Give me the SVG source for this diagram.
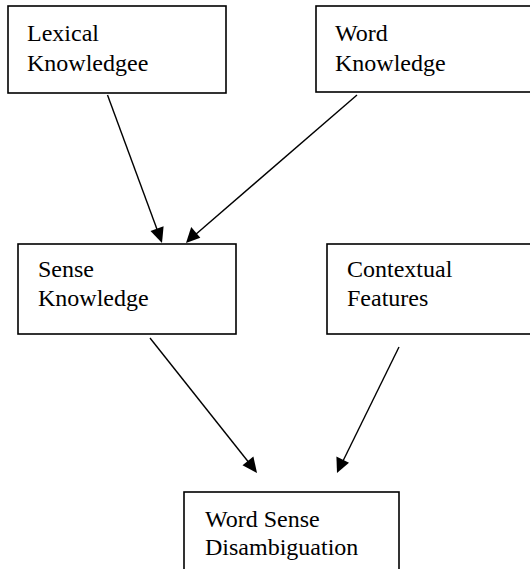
<svg xmlns="http://www.w3.org/2000/svg" width="530" height="569" viewBox="0 0 530 569">
<style>
.box{fill:#fff;stroke:#000;stroke-width:1.6}
.t{font-family:"Liberation Serif",serif;font-size:24px;fill:#000}
.c{stroke:#000;stroke-width:1.4;fill:none}
.h{fill:#000;stroke:none}
</style>
<rect width="530" height="569" fill="#fff"/>
<g id="n1"><rect class="box" x="8" y="6" width="218" height="87"/><text class="t" x="27" y="41">Lexical</text><text class="t" x="27" y="71">Knowledgee</text></g>
<g id="n2"><rect class="box" x="316" y="6" width="220" height="86"/><text class="t" x="335" y="41">Word</text><text class="t" x="335" y="71">Knowledge</text></g>
<g id="n3"><rect class="box" x="18" y="244" width="218" height="90"/><text class="t" x="38" y="277">Sense</text><text class="t" x="38" y="306">Knowledge</text></g>
<g id="n4"><rect class="box" x="327" y="244" width="210" height="90"/><text class="t" x="347" y="277">Contextual</text><text class="t" x="347" y="306">Features</text></g>
<g id="n5"><rect class="box" x="184" y="492" width="215" height="90"/><text class="t" x="205" y="527">Word Sense</text><text class="t" x="205" y="555">Disambiguation</text></g>
<g id="connectors">
<line class="c" x1="107.5" y1="95" x2="158" y2="232"/>
<polygon class="h" points="162,243 150.5,231 163.6,226.2"/>
<line class="c" x1="357" y1="95" x2="195" y2="235"/>
<polygon class="h" points="186,243 191.2,227.1 200.3,237.7"/>
<line class="c" x1="150" y1="338" x2="250" y2="464"/>
<polygon class="h" points="257,473 242.5,465.2 253.4,456.5"/>
<line class="c" x1="399" y1="347" x2="342" y2="463"/>
<polygon class="h" points="337,473 336.4,456.6 349,462.8"/>
</g>
</svg>
